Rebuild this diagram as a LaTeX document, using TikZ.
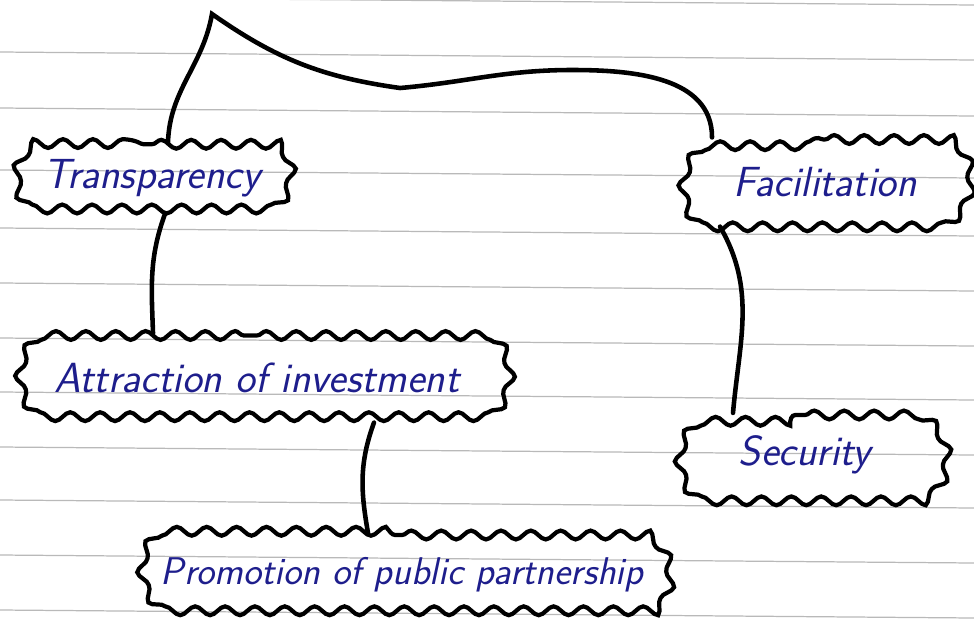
\documentclass[tikz,border=0pt]{standalone}
\usepackage{tikz}
\usetikzlibrary{decorations.pathmorphing, shapes.misc, positioning}
\definecolor{ink}{RGB}{30,30,140}
\tikzset{
    cloudbox/.style={rounded rectangle, rounded rectangle arc length=110, draw, line width=2.4pt, decorate, decoration={snake, amplitude=2.5pt, segment length=17pt}, align=center, text=ink, font=\sffamily\slshape\fontsize{24}{28}\selectfont},
    link/.style={line width=2.6pt, line cap=round},
    ruled/.style={gray!55, line width=0.7pt}
}

\begin{document}
\begin{tikzpicture}[x=0.02cm, y=-0.02cm]
        \useasboundingbox (0,0) rectangle (974,633);

        % ruled paper
        \foreach \y in {-3,52,108,170,228,283,338,392,447,500,555,610}
            \draw[ruled] (0,\y) -- (974,\y+8);

        % Boxes
        \node (Trans) [cloudbox, minimum width=5.6cm, minimum height=1.35cm] at (152,178) {Transparency};
        \node (Facil) [cloudbox, minimum width=5.9cm, minimum height=1.7cm] at (825,182) {Facilitation};
        \node (Attract) [cloudbox, minimum width=9.9cm, minimum height=1.7cm] at (257,378) {Attraction of investment};
        \node (Secur) [cloudbox, minimum width=5.6cm, minimum height=1.6cm] at (805,455) {Security};
        \node (Promo) [cloudbox, minimum width=10.8cm, minimum height=1.6cm, font=\sffamily\slshape\fontsize{22}{26}\selectfont] at (402,575) {Promotion of public partnership};

        % bends of the top line
        \coordinate (Peak) at (212,14);
        \coordinate (Dip) at (400,88);
        \coordinate (Hump) at (572,70);

        % Connectors
        \draw[link] ([xshift=0.32cm]Trans.north) to[out=88, in=-100] (Peak)
            to[out=-35, in=172] (Dip) to[out=5, in=180] (Hump)
            to[out=0, in=90] ([xshift=-2.26cm]Facil.north);
        \draw[link] ([xshift=0.26cm]Trans.south) to[out=-110, in=92] ([xshift=-2.08cm]Attract.north);
        \draw[link] ([xshift=-2.1cm]Facil.south) to[out=-60, in=85] ([xshift=-1.44cm]Secur.north);
        \draw[link] ([xshift=2.34cm]Attract.south) to[out=-110, in=100] ([xshift=-0.68cm]Promo.north);

    \end{tikzpicture}
\end{document}
